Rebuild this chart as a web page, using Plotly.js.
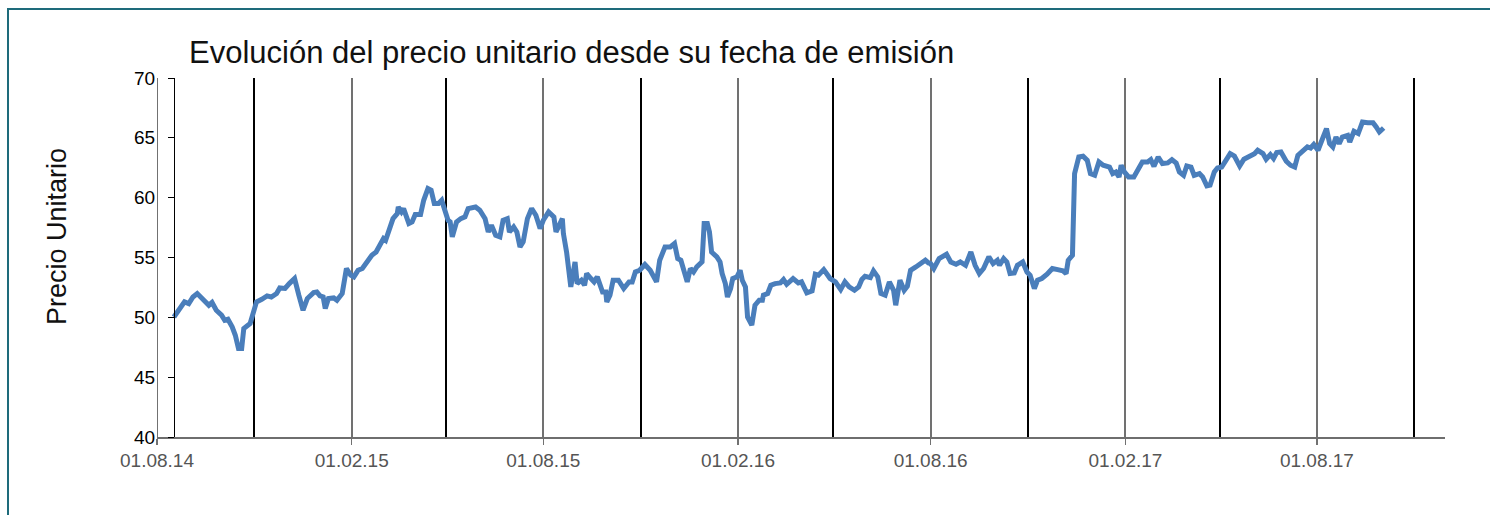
<!DOCTYPE html>
<html>
<head>
<meta charset="utf-8">
<script src="https://cdn.plot.ly/plotly-3.0.1.min.js"></script>
<style>
  html, body { margin: 0; padding: 0; background: #fff; }
  #wrap { position: relative; width: 1490px; height: 515px; overflow: hidden; }
  #chart { position: absolute; left: 0; top: 0; width: 1490px; height: 515px; }
  #frame { position: absolute; left: 7px; top: 8px; right: -10px; bottom: -10px;
           border-top: 2px solid #1e6b7b; border-left: 2px solid #1e6b7b; pointer-events: none; }
</style>
</head>
<body>
<div id="wrap">
  <div id="chart"></div>
  <div id="frame"></div>
</div>
<script>
// Dates (dd.mm.yy axis) and unit prices
const dates = [
'2014-08-17','2014-08-21','2014-08-27','2014-08-31','2014-09-04','2014-09-08','2014-09-14','2014-09-19','2014-09-22','2014-09-26',
'2014-10-01','2014-10-04','2014-10-07','2014-10-11','2014-10-14','2014-10-17','2014-10-20','2014-10-22','2014-10-28','2014-10-31',
'2014-11-03','2014-11-08','2014-11-13','2014-11-17','2014-11-22','2014-11-25','2014-11-30','2014-12-04','2014-12-09','2014-12-13',
'2014-12-17','2014-12-21','2014-12-27','2014-12-30','2015-01-02','2015-01-05','2015-01-07','2015-01-10','2015-01-15','2015-01-18',
'2015-01-23','2015-01-27','2015-01-31','2015-02-03','2015-02-07','2015-02-11','2015-02-15','2015-02-20','2015-02-24','2015-02-28',
'2015-03-03','2015-03-05','2015-03-09','2015-03-12','2015-03-16','2015-03-17','2015-03-20','2015-03-22','2015-03-27','2015-03-30',
'2015-04-02','2015-04-07','2015-04-10','2015-04-14','2015-04-17','2015-04-20','2015-04-24','2015-04-27','2015-04-29','2015-05-03',
'2015-05-05','2015-05-07','2015-05-11','2015-05-15','2015-05-19','2015-05-22','2015-05-29','2015-06-02','2015-06-07','2015-06-10',
'2015-06-13','2015-06-17','2015-06-21','2015-06-24','2015-06-28','2015-06-30','2015-07-04','2015-07-07','2015-07-10','2015-07-13',
'2015-07-17','2015-07-21','2015-07-25','2015-07-29','2015-08-01','2015-08-06','2015-08-11','2015-08-13','2015-08-16','2015-08-19',
'2015-08-20','2015-08-23','2015-08-27','2015-08-30','2015-08-31','2015-09-02','2015-09-06','2015-09-09','2015-09-11','2015-09-15',
'2015-09-18','2015-09-21','2015-09-26','2015-09-29','2015-09-30','2015-10-03','2015-10-06','2015-10-11','2015-10-16','2015-10-21',
'2015-10-24','2015-10-27','2015-10-31','2015-11-05','2015-11-10','2015-11-16','2015-11-19','2015-11-24','2015-11-29','2015-12-03',
'2015-12-06','2015-12-09','2015-12-12','2015-12-15','2015-12-18','2015-12-21','2015-12-24','2015-12-29','2015-12-31','2016-01-03',
'2016-01-05','2016-01-07','2016-01-12','2016-01-15','2016-01-17','2016-01-20','2016-01-22','2016-01-25','2016-01-27','2016-01-31',
'2016-02-03','2016-02-05','2016-02-08','2016-02-10','2016-02-14','2016-02-17','2016-02-21','2016-02-24','2016-02-25','2016-02-29',
'2016-03-03','2016-03-07','2016-03-12','2016-03-15','2016-03-18','2016-03-24','2016-03-29','2016-04-01','2016-04-06','2016-04-11',
'2016-04-14','2016-04-17','2016-04-22','2016-04-25','2016-04-28','2016-05-03','2016-05-08','2016-05-12','2016-05-16','2016-05-21',
'2016-05-25','2016-05-28','2016-05-31','2016-06-05','2016-06-08','2016-06-12','2016-06-15','2016-06-19','2016-06-23','2016-06-27',
'2016-06-29','2016-07-03','2016-07-07','2016-07-10','2016-07-13','2016-07-18','2016-07-22','2016-07-27','2016-07-30','2016-08-01',
'2016-08-04','2016-08-09','2016-08-16','2016-08-20','2016-08-25','2016-08-29','2016-09-03','2016-09-08','2016-09-12','2016-09-16',
'2016-09-20','2016-09-25','2016-09-29','2016-10-03','2016-10-05','2016-10-09','2016-10-12','2016-10-15','2016-10-19','2016-10-22',
'2016-10-27','2016-10-31','2016-11-03','2016-11-07','2016-11-10','2016-11-14','2016-11-19','2016-11-24','2016-11-29','2016-12-04',
'2016-12-07','2016-12-09','2016-12-13','2016-12-15','2016-12-19','2016-12-23','2016-12-27','2016-12-30','2017-01-03','2017-01-07',
'2017-01-11','2017-01-17','2017-01-20','2017-01-23','2017-01-26','2017-01-28','2017-01-31','2017-02-04','2017-02-09','2017-02-14',
'2017-02-17','2017-02-22','2017-02-25','2017-02-28','2017-03-04','2017-03-08','2017-03-13','2017-03-17','2017-03-21','2017-03-24',
'2017-03-28','2017-03-31','2017-04-04','2017-04-07','2017-04-12','2017-04-15','2017-04-19','2017-04-22','2017-04-26','2017-04-29',
'2017-05-03','2017-05-07','2017-05-11','2017-05-15','2017-05-20','2017-05-24','2017-05-29','2017-06-03','2017-06-06','2017-06-11',
'2017-06-14','2017-06-18','2017-06-21','2017-06-24','2017-06-28','2017-07-03','2017-07-07','2017-07-11','2017-07-14','2017-07-19',
'2017-07-23','2017-07-26','2017-07-29','2017-08-02','2017-08-05','2017-08-10','2017-08-13','2017-08-16','2017-08-19','2017-08-22',
'2017-08-25','2017-08-30','2017-09-01','2017-09-05','2017-09-09','2017-09-13','2017-09-18','2017-09-23','2017-09-26','2017-09-29',
'2017-10-03'
];
const prices = [
50.03,50.59,51.29,51.15,51.70,51.99,51.43,51.01,51.24,50.59,
50.18,49.76,49.84,49.20,48.50,47.39,47.39,49.06,49.48,50.32,
51.29,51.51,51.79,51.70,51.99,52.46,52.41,52.82,53.24,51.85,
50.59,51.57,52.07,52.12,51.79,51.70,50.74,51.57,51.62,51.43,
51.99,54.08,53.52,53.38,53.93,54.08,54.58,55.19,55.46,56.17,
56.58,56.44,57.42,58.25,58.67,59.22,58.81,59.09,57.84,57.97,
58.59,58.59,59.78,60.76,60.62,59.51,59.51,59.78,59.22,58.11,
57.97,56.72,57.97,58.25,58.39,59.09,59.22,58.95,58.25,57.13,
57.69,56.86,56.72,58.11,58.25,57.13,57.55,57.13,55.88,56.30,
58.25,59.09,58.53,57.42,58.11,58.81,58.39,57.13,57.69,58.25,
57.00,55.46,52.54,54.35,54.63,52.82,53.10,52.68,53.66,53.24,
52.96,53.38,52.12,52.12,51.29,51.85,53.10,53.10,52.41,52.96,
52.96,53.79,53.93,54.41,53.93,52.96,54.77,55.88,55.88,56.17,
54.91,54.77,53.93,52.96,54.08,53.79,54.21,54.63,57.84,57.84,
57.13,55.46,55.05,54.63,53.66,52.82,51.70,52.41,53.24,53.38,
53.93,53.10,52.54,50.03,49.34,51.01,51.43,51.43,51.85,51.99,
52.68,52.82,52.87,53.16,52.76,53.24,52.87,52.96,52.04,52.21,
53.60,53.52,53.99,53.66,53.24,52.96,52.32,52.96,52.54,52.26,
52.54,53.16,53.43,53.32,53.88,53.38,51.99,51.85,52.96,52.26,
51.01,53.10,52.26,52.60,53.93,54.21,54.49,54.77,54.54,54.49,
54.08,54.91,55.27,54.63,54.44,54.63,54.35,55.46,54.35,53.66,
54.08,55.05,54.49,54.77,54.35,54.91,54.63,53.66,53.71,54.35,
54.63,53.79,53.52,52.41,53.10,53.24,53.60,54.08,53.99,53.88,
53.66,54.77,55.19,62.01,63.40,63.46,63.12,62.01,61.87,62.98,
62.71,62.56,62.01,62.15,61.73,62.71,62.15,61.73,61.73,62.43,
62.98,62.98,63.18,62.62,63.40,62.85,62.90,63.17,62.90,62.15,
61.87,62.65,62.56,61.87,62.01,61.73,60.98,61.04,62.15,62.48,
62.56,63.12,63.68,63.48,62.65,63.21,63.40,63.68,63.96,63.68,
63.21,63.60,63.27,63.77,63.82,63.04,62.71,62.56,63.54,63.96,
64.24,64.15,64.44,63.96,64.65,65.77,64.52,64.24,65.07,64.52,
65.07,65.21,64.65,65.55,65.36,66.32,66.27,66.27,65.91,65.49,
65.82
];
const chartTitle = 'Evolución del precio unitario desde su fecha de emisión';
const yTitle = 'Precio Unitario';
const axisStart = '2014-08-01';
const xRange = [axisStart, '2017-11-30'];
const yRange = [40, 70];

const trace = {
  x: dates, y: prices, type: 'scatter', mode: 'lines',
  line: { color: '#4a7ebb', width: 5 },
  hoverinfo: 'x+y'
};

const gridGrey = '#717171';

const layout = {
  width: 1490, height: 515,
  margin: { l: 157, r: 45, t: 78, b: 78 },
  paper_bgcolor: 'rgba(0,0,0,0)', plot_bgcolor: 'rgba(0,0,0,0)',
  showlegend: false,
  font: { family: '"Liberation Sans", Arial, sans-serif', color: '#000' },
  title: {
    text: chartTitle,
    font: { family: '"Liberation Sans", Arial, sans-serif', size: 31, color: '#111' },
    x: 189 / 1490, xanchor: 'left', xref: 'container',
    y: 1 - 52 / 515, yanchor: 'middle', yref: 'container'
  },
  xaxis: {
    type: 'date', range: xRange,
    tick0: axisStart, dtick: 'M6', tickformat: '%d.%m.%y',
    ticks: 'outside', ticklen: 6, tickwidth: 1.5, tickcolor: gridGrey,
    tickfont: { size: 19, color: '#555' },
    showline: true, linecolor: '#6e6e6e', linewidth: 1.5,
    showgrid: true, gridcolor: gridGrey, gridwidth: 2,
    zeroline: false,
    minor: { tick0: axisStart, dtick: 'M3', showgrid: true, gridcolor: '#000', gridwidth: 2, ticks: '' }
  },
  yaxis: {
    range: yRange, dtick: 5, tick0: 40,
    anchor: 'free', position: 0.0132,
    ticks: 'outside', ticklen: 6, tickwidth: 1, tickcolor: '#000',
    ticklabelstandoff: 9,
    tickfont: { size: 19, color: '#000' },
    showline: true, linecolor: '#000', linewidth: 1,
    showgrid: false, zeroline: false
  },
  shapes: [{
    // major gridline at the axis start (01.08.14)
    type: 'line', layer: 'below', xref: 'x', yref: 'paper',
    x0: axisStart, x1: axisStart, y0: 0, y1: 1,
    line: { color: gridGrey, width: 2 }
  }],
  annotations: [{
    text: yTitle, textangle: -90,
    xref: 'paper', yref: 'paper',
    x: (57 - 157) / 1288, y: (437 - 237) / 359,
    xanchor: 'center', yanchor: 'middle', showarrow: false,
    font: { family: '"Liberation Sans", Arial, sans-serif', size: 27, color: '#111' }
  }]
};

Plotly.newPlot('chart', [trace], layout, { staticPlot: true, displayModeBar: false });
</script>
</body>
</html>
